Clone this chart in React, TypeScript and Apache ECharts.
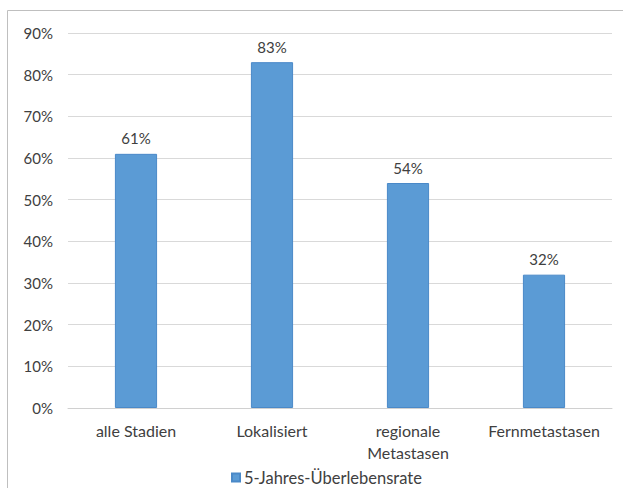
import React, { useEffect, useRef } from "react";
import * as echarts from "echarts";

const categories = ["alle Stadien", "Lokalisiert", "regionale\nMetastasen", "Fernmetastasen"];
const survival = [61, 83, 54, 32];
const seriesName = "5-Jahres-Überlebensrate";
const yMax = 90;
const yInterval = 10;

export default function App() {
  const ref = useRef<HTMLDivElement>(null);
  useEffect(() => {
    if (!ref.current) return;
    const chart = echarts.init(ref.current, undefined, { renderer: "svg" });
    const font = "Lato, 'Liberation Sans', Arial, sans-serif";
    chart.setOption({
      animation: false,
      backgroundColor: "#ffffff",
      textStyle: { fontFamily: font },
      graphic: [
        {
          type: "polyline",
          shape: { points: [[7.5, 488], [7.5, 10.5], [623, 10.5]] },
          style: { stroke: "#bfbfbf", lineWidth: 1, fill: null },
          silent: true,
        },
      ],
      grid: { left: 68, right: 11, top: 33, bottom: 80 },
      legend: {
        data: [seriesName],
        left: 226,
        top: 464,
        itemWidth: 8,
        itemHeight: 8,
        icon: "rect",
        itemGap: 4,
        textStyle: { color: "#404040", fontSize: 16.5, fontFamily: font, padding: [0, 0, 0, -1] },
      },
      xAxis: {
        type: "category",
        data: categories,
        axisLine: { show: true, lineStyle: { color: "#d0d0d0", width: 1 } },
        axisTick: { show: false },
        axisLabel: {
          color: "#404040",
          fontSize: 16,
          fontFamily: font,
          margin: 11,
          lineHeight: 22,
          interval: 0,
        },
      },
      yAxis: {
        type: "value",
        min: 0,
        max: yMax,
        interval: yInterval,
        axisLine: { show: false },
        axisTick: { show: false },
        splitLine: { lineStyle: { color: "#d9d9d9", width: 1 } },
        axisLabel: {
          color: "#404040",
          fontSize: 15,
          fontFamily: font,
          margin: 15,
          formatter: (v: number) => v + "%",
        },
      },
      series: [
        {
          name: seriesName,
          type: "bar",
          data: survival,
          barWidth: "31%",
          itemStyle: { color: "#5b9bd5", borderColor: "#4a89c8", borderWidth: 1 },
          label: {
            show: true,
            position: "top",
            distance: 8,
            color: "#404040",
            fontSize: 15,
            fontFamily: font,
            formatter: (p: any) => p.value + "%",
          },
        },
      ],
    });
    return () => chart.dispose();
  }, []);
  return (
    <div
      ref={ref}
      style={{ position: "absolute", left: 0, top: 0, width: 623, height: 488 }}
    />
  );
}
